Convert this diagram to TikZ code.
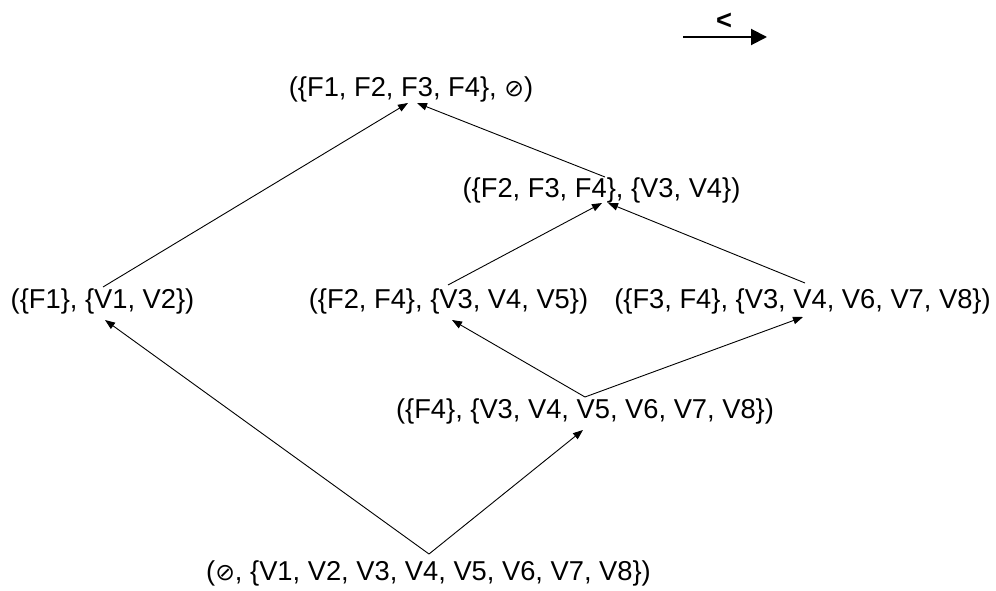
\documentclass[tikz,border=0pt]{standalone}
\usepackage{fontspec}
\setmainfont{Liberation Sans}
\newfontfamily\symfont{DejaVu Sans}
\usetikzlibrary{arrows.meta}
\newcommand{\myempty}{{\symfont\fontsize{23.5}{28}\selectfont ⊘}}
\begin{document}
\begin{tikzpicture}[x=1pt,y=1pt,
  lbl/.style={inner sep=0pt, anchor=base, font=\fontsize{27.3}{31}\selectfont},
  edge/.style={line width=0.9pt, -{Triangle[length=10pt,width=7.5pt]}},
  bigarrow/.style={line width=2pt, -{Triangle[length=16pt,width=16pt]}}]
\useasboundingbox (0,0) rectangle (996,590);
% nodes
\node[lbl] (top)  at (411,493)   {(\{F1, F2, F3, F4\}, \myempty)};
\node[lbl] (n234) at (601.5,392) {(\{F2, F3, F4\}, \{V3, V4\})};
\node[lbl] (f1)   at (102.5,282) {(\{F1\}, \{V1, V2\})};
\node[lbl] (f24)  at (448.5,282) {(\{F2, F4\}, \{V3, V4, V5\})};
\node[lbl] (f34)  at (802.5,282) {(\{F3, F4\}, \{V3, V4, V6, V7, V8\})};
\node[lbl] (f4)   at (585,172)   {(\{F4\}, \{V3, V4, V5, V6, V7, V8\})};
\node[lbl] (bot)  at (428.5,10)  {(\myempty, \{V1, V2, V3, V4, V5, V6, V7, V8\})};
% legend arrow
\node[lbl, font=\bfseries\fontsize{27.3}{31}\selectfont] (lt) at (724,560) {<};
\coordinate (la) at (683,553);
\coordinate (lb) at (767,553);
\draw[bigarrow] (la) -- (lb);
% edges
\draw[edge] ([xshift=0.5pt,yshift=21pt]f1.base) -- ([xshift=-3pt,yshift=-6pt]top.base);
\draw[edge] ([xshift=3.5pt,yshift=21pt]n234.base) -- ([xshift=6pt,yshift=-6pt]top.base);
\draw[edge] ([xshift=-0.5pt,yshift=23pt]f24.base) -- ([xshift=0.5pt,yshift=-5pt]n234.base);
\draw[edge] ([xshift=2.5pt,yshift=25pt]f34.base) -- ([xshift=6.5pt,yshift=-5pt]n234.base);
\draw[edge] ([yshift=21pt]f4.base) -- ([xshift=3.5pt,yshift=-12pt]f24.base);
\draw[edge] ([yshift=21pt]f4.base) -- ([xshift=0.5pt,yshift=-9pt]f34.base);
\draw[edge] ([xshift=0.5pt,yshift=26pt]bot.base) -- ([xshift=2.5pt,yshift=-12pt]f1.base);
\draw[edge] ([xshift=0.5pt,yshift=26pt]bot.base) -- ([xshift=-2pt,yshift=-12pt]f4.base);
\end{tikzpicture}
\end{document}
